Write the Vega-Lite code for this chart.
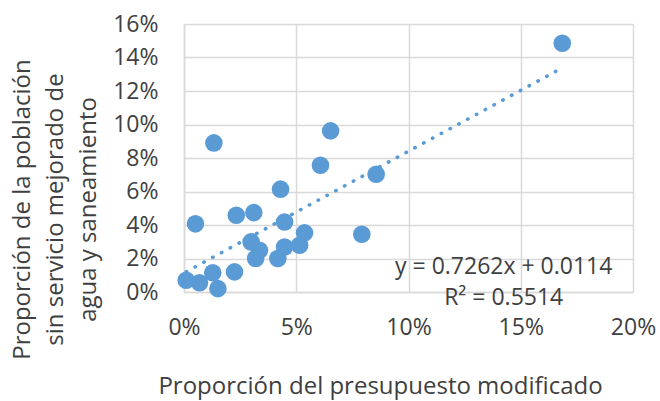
{
  "$schema": "https://vega.github.io/schema/vega-lite/v6.json",
  "width": 449,
  "height": 268,
  "autosize": "none",
  "padding": {"left": 184, "top": 24, "right": 27, "bottom": 109},
  "background": "white",
  "config": {"view": {"stroke": null}, "font": "Open Sans"},
  "encoding": {
    "x": {
      "field": "x", "type": "quantitative",
      "scale": {"domain": [0, 0.2], "nice": false, "zero": false},
      "axis": {
        "title": "Proporción del presupuesto modificado",
        "values": [0, 0.05, 0.1, 0.15, 0.2], "format": "%",
        "grid": true, "gridColor": "#d9d9d9", "gridWidth": 1.5,
        "domainColor": "#d9d9d9", "domainWidth": 1.5, "ticks": false,
        "labelFontSize": 23, "labelColor": "#404040", "labelPadding": 24, "labelFlush": false,
        "titleFontSize": 24, "titleFontWeight": "normal", "titleColor": "#404040",
        "titleX": 196, "titleY": 101, "titleAlign": "center", "titleBaseline": "alphabetic"
      }
    },
    "y": {
      "field": "y", "type": "quantitative",
      "scale": {"domain": [0, 0.16], "nice": false, "zero": false},
      "axis": {
        "title": ["Proporción de la población", "sin servicio mejorado de", "agua y saneamiento"],
        "values": [0, 0.02, 0.04, 0.06, 0.08, 0.1, 0.12, 0.14, 0.16], "format": "%",
        "grid": true, "gridColor": "#d9d9d9", "gridWidth": 1.5,
        "domainColor": "#d9d9d9", "domainWidth": 1.5, "ticks": false,
        "labelFontSize": 23, "labelColor": "#404040", "labelPadding": 26, "labelFlush": false,
        "titleFontSize": 24, "titleFontWeight": "normal", "titleColor": "#404040",
        "titleLineHeight": 33, "titleAngle": -90,
        "titleX": -162, "titleY": 185, "titleAlign": "center", "titleBaseline": "middle"
      }
    }
  },
  "layer": [
    {
      "data": {"values": [{"x": 0.001, "y": 0.0121}, {"x": 0.1656, "y": 0.1317}]},
      "mark": {"type": "line", "color": "#5B9BD5", "strokeWidth": 3.5, "strokeDash": [0.5, 9.5], "strokeCap": "round"}
    },
    {
      "data": {"values": [
        {"x": 0.0133, "y": 0.089},
        {"x": 0.0653, "y": 0.0962},
        {"x": 0.0608, "y": 0.0757},
        {"x": 0.0856, "y": 0.0703},
        {"x": 0.0430, "y": 0.0614},
        {"x": 0.0051, "y": 0.0407},
        {"x": 0.0233, "y": 0.0458},
        {"x": 0.0311, "y": 0.0474},
        {"x": 0.0448, "y": 0.0418},
        {"x": 0.0537, "y": 0.0353},
        {"x": 0.0792, "y": 0.0345},
        {"x": 0.0515, "y": 0.0279},
        {"x": 0.0448, "y": 0.0269},
        {"x": 0.0299, "y": 0.0299},
        {"x": 0.0336, "y": 0.0249},
        {"x": 0.0319, "y": 0.0200},
        {"x": 0.0418, "y": 0.0200},
        {"x": 0.0225, "y": 0.0120},
        {"x": 0.0128, "y": 0.0115},
        {"x": 0.0151, "y": 0.0020},
        {"x": 0.0010, "y": 0.0070},
        {"x": 0.0069, "y": 0.0055},
        {"x": 0.1685, "y": 0.1485}
      ]},
      "mark": {"type": "point", "filled": true, "size": 310, "opacity": 1, "color": "#5B9BD5"}
    },
    {
      "data": {"values": [
        {"x": 0.1424, "y": 0.0108, "label": "y = 0.7262x + 0.0114"},
        {"x": 0.1424, "y": -0.0078, "label": "R² = 0.5514"}
      ]},
      "mark": {"type": "text", "fontSize": 23, "color": "#404040", "align": "center", "baseline": "alphabetic"},
      "encoding": {"text": {"field": "label", "type": "nominal"}}
    }
  ]
}
